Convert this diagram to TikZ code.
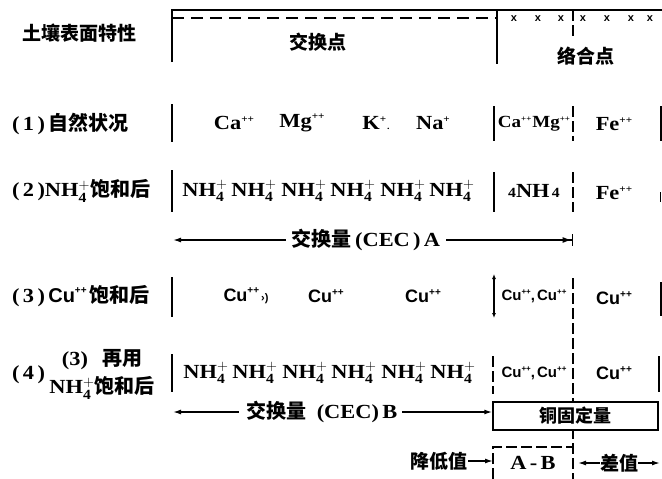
\documentclass[tikz,border=0pt]{standalone}
\usepackage{fontspec}
\setmainfont{Liberation Serif}[FakeStretch=1.12]
\setsansfont{Liberation Sans}
\newfontfamily\cjk{Noto Sans CJK SC}
\usetikzlibrary{arrows.meta}
\newcommand{\pp}{\raisebox{0.8ex}{\fontsize{10}{10}\selectfont ++}}
\newcommand{\ppn}{\raisebox{0.8ex}{\fontsize{8}{8}\selectfont ++}}
\newcommand{\ps}{\raisebox{0.8ex}{\fontsize{10}{10}\selectfont +}}
\newcommand{\nhq}{NH$_{\mathbf{4}}^{\mathbf{+}}$}
\begin{document}
\begin{tikzpicture}[x=1pt,y=-1pt,
  cn/.style={font=\cjk\bfseries\fontsize{19}{21}\selectfont,inner sep=0pt},
  io/.style={font=\bfseries\fontsize{20}{22}\selectfont,inner sep=0pt},
  ion/.style={font=\bfseries\fontsize{17}{19}\selectfont,inner sep=0pt},
  ios/.style={font=\sffamily\bfseries\fontsize{18}{20}\selectfont,inner sep=0pt},
  iosn/.style={font=\sffamily\bfseries\fontsize{15}{17}\selectfont,inner sep=0pt},
  xm/.style={font=\sffamily\bfseries\fontsize{11}{11}\selectfont,inner sep=0pt},
  frameline/.style={line width=1.5pt},
  bar/.style={line width=1.8pt},
  dbar/.style={line width=1.3pt,dash pattern=on 11pt off 4pt},
  ddash/.style={line width=1.3pt,dash pattern=on 12pt off 7pt},
  arr/.style={line width=1.4pt,-{Latex[length=8pt,width=5pt]}},
  boxed/.style={draw,line width=1.5pt,minimum width=165pt,minimum height=28pt,inner sep=0pt,font=\cjk\bfseries\fontsize{18}{20}\selectfont}
]
\useasboundingbox (0,0) rectangle (662,479);

% ---------- header ----------
\node[cn,anchor=west] (hdr) at (22,33) {土壤表面特性};
\node[cn] (jhd) at (318,42) {交换点};
\node[cn] (lhd) at (586,56) {络合点};

\coordinate (ftl) at (172,10);
\coordinate (ftr) at (662,10);
\coordinate (flb) at (172,62);
\coordinate (fmt) at (497,10);
\coordinate (fmb) at (497,64);
\coordinate (dl) at (172,18);
\coordinate (dr) at (497,18);
\draw[frameline] (flb) -- (ftl) -- (ftr);
\draw[frameline] (fmt) -- (fmb);
\draw[ddash] (dl) -- (dr);
\foreach \i/\x in {1/514,2/538,3/561,4/583,5/607,6/631,7/650}
  \node[xm] (x\i) at (\x,19) {x};

% dashed divider piece at x=573 (top)
\coordinate (d0t) at (573,10);  \coordinate (d0b) at (573,40);
\draw[dbar] (d0t) -- (d0b);

% ---------- row 1 ----------
\node[io,anchor=west] (l1) at (12,124) {(\,1\,)\,{\cjk 自然状况}};
\coordinate (b1t) at (172,104); \coordinate (b1b) at (172,142);
\draw[bar] (b1t) -- (b1b);
\node[io] (ca1) at (234,123) {Ca\pp};
\node[io] (mg1) at (302,123) {Mg\pp};
\node[io] (k1)  at (376,123) {K\ps\kern1pt{\fontsize{9}{9}\selectfont .}};
\node[io] (na1) at (433,123) {Na\ps};
\coordinate (m1t) at (494,106); \coordinate (m1b) at (494,141);
\draw[bar] (m1t) -- (m1b);
\node[ion] (cm1) at (534,124) {Ca\ppn\kern1pt Mg\ppn};
\coordinate (d1t) at (573,106); \coordinate (d1b) at (573,141);
\draw[dbar] (d1t) -- (d1b);
\node[io] (fe1) at (614,124) {Fe\pp};
\coordinate (r1t) at (661,106); \coordinate (r1b) at (661,141);
\draw[bar] (r1t) -- (r1b);

% ---------- row 2 ----------
\node[io,anchor=west] (l2) at (12,191) {(\,2\,)\nhq{\cjk 饱和后}};
\coordinate (b2t) at (172,170); \coordinate (b2b) at (172,212);
\draw[bar] (b2t) -- (b2b);
\foreach \i/\x in {1/205,2/254,3/304,4/353,5/403,6/452}
  \node[io] (nh2\i) at (\x,191) {\nhq};
\coordinate (m2t) at (494,172); \coordinate (m2b) at (494,212);
\draw[bar] (m2t) -- (m2b);
\node[io] (fn2) at (534,191) {{\fontsize{14}{14}\selectfont 4}NH{\fontsize{14}{14}\selectfont\,4}};
\coordinate (d2t) at (573,172); \coordinate (d2b) at (573,212);
\draw[dbar] (d2t) -- (d2b);
\node[io] (fe2) at (614,193) {Fe\pp};
\coordinate (r2t) at (660,192); \coordinate (r2b) at (660,202);
\draw[line width=1pt] (r2t) -- (r2b);

% ---------- arrow A ----------
\node[io] (cecA) at (366,240) {{\cjk 交换量}\,(CEC\,)\,A};
\coordinate (aAl) at (173,240);
\coordinate (aAr) at (573,240);
\draw[arr] (cecA.west) ++(-6,0) coordinate (aAs) -- (aAl);
\draw[line width=1.4pt,-{Latex[length=9pt,width=6pt]Bar[width=12pt]}] (cecA.east) ++(6,0) coordinate (aAe) -- (aAr);

% ---------- row 3 ----------
\node[io,anchor=west] (l3) at (12,296) {(\,3\,)\,{\sffamily Cu\pp}\,{\cjk 饱和后}};
\coordinate (b3t) at (172,277); \coordinate (b3b) at (172,317);
\draw[bar] (b3t) -- (b3b);
\node[ios] (cu31) at (246,296) {Cu\pp\kern2pt{\fontsize{11}{11}\selectfont ›)}};
\node[ios] (cu32) at (326,296) {Cu\pp};
\node[ios] (cu33) at (423,296) {Cu\pp};
\coordinate (m3t) at (494,274); \coordinate (m3b) at (494,318);
\draw[line width=1.5pt,{Latex[length=5pt,width=4pt]}-{Latex[length=5pt,width=4pt]}] (m3t) -- (m3b);
\node[iosn] (cc3) at (534,296) {Cu\ppn,\kern2pt Cu\ppn};
\coordinate (d3t) at (573,278); \coordinate (d3b) at (573,479);
\draw[dbar] (d3t) -- (d3b);
\node[ios] (cu34) at (614,298) {Cu\pp};
\coordinate (r3t) at (661,282); \coordinate (r3b) at (661,316);
\draw[bar] (r3t) -- (r3b);

% ---------- row 4 ----------
\node[io,anchor=west] (l4a) at (12,375) {(\,4\,)};
\node[io] (l4b) at (102,360) {(3)\hspace{14pt}{\cjk 再用}};
\node[io] (l4c) at (102,388) {\nhq{\cjk 饱和后}};
\coordinate (b4t) at (172,354); \coordinate (b4b) at (172,392);
\draw[bar] (b4t) -- (b4b);
\foreach \i/\x in {1/206,2/255,3/305,4/354,5/404,6/453}
  \node[io] (nh4\i) at (\x,373) {\nhq};
\coordinate (m4t) at (493,356); \coordinate (m4b) at (493,394);
\draw[dbar] (m4t) -- (m4b);
\node[iosn] (cc4) at (534,373) {Cu\ppn,\kern2pt Cu\ppn};
\node[ios] (cu44) at (614,373) {Cu\pp};
\coordinate (r4t) at (659,356); \coordinate (r4b) at (659,392);
\draw[bar] (r4t) -- (r4b);

% ---------- arrow B and copper box ----------
\node[boxed,fill=white] (cufix) at (575.5,416) {铜固定量};
\node[io] (cecB) at (322,412) {{\cjk 交换量}\enspace(CEC)\,B};
\coordinate (aBl) at (173,412);
\draw[arr] (cecB.west) ++(-8,0) coordinate (aBs) -- (aBl);
\draw[arr] (cecB.east) ++(5,0) coordinate (aBe) -- (cufix.west |- aBe);

% ---------- bottom row ----------
\coordinate (abtl) at (493,447);
\coordinate (abtr) at (573,447);
\coordinate (abbl) at (493,479);
\draw[dbar] (abbl) -- (abtl) -- (abtr);
\node[io] (amb) at (533,463) {A\,-\,B};
\node[cn,anchor=east] (jdz) at (468,461) {降低值};
\draw[arr] (jdz.east) -- (abtl |- jdz.east);
\node[cn] (cz) at (619,463) {差值};
\coordinate (czl) at (578,463);
\coordinate (czr) at (660,463);
\draw[arr] (cz.west) -- (czl);
\draw[arr] (cz.east) -- (czr);
\end{tikzpicture}
\end{document}
